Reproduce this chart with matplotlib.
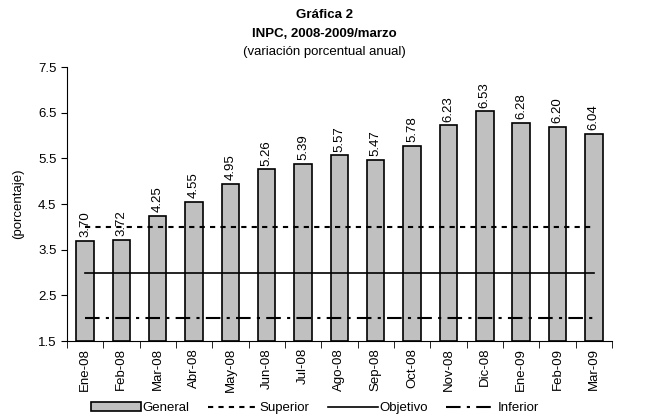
import numpy as np
import matplotlib.pyplot as plt

plt.rcParams['font.family'] = ['Liberation Sans', 'DejaVu Sans']

meses = ['Ene-08', 'Feb-08', 'Mar-08', 'Abr-08', 'May-08', 'Jun-08', 'Jul-08',
         'Ago-08', 'Sep-08', 'Oct-08', 'Nov-08', 'Dic-08', 'Ene-09', 'Feb-09', 'Mar-09']
general = [3.70, 3.72, 4.25, 4.55, 4.95, 5.26, 5.39, 5.57, 5.47, 5.78, 6.23, 6.53, 6.28, 6.20, 6.04]
superior = [4.0] * len(meses)
objetivo = [3.0] * len(meses)
inferior = [2.0] * len(meses)

x = np.arange(len(meses))

fig = plt.figure(figsize=(6.49, 4.2), dpi=100)
ax = fig.add_axes([0.103, 0.188, 0.84, 0.652])

b = ax.bar(x, np.array(general) - 1.5, bottom=1.5, width=0.48, color='#c0c0c0',
           edgecolor='black', linewidth=1.2, label='General')
l1, = ax.plot(x, superior, color='black', lw=1.5, ls=(0, (2.5, 2.5)), label='Superior')
l2, = ax.plot(x, objetivo, color='black', lw=1.2, ls='-', label='Objetivo')
l3, = ax.plot(x, inferior, color='black', lw=1.5, ls=(0, (7, 3, 1.5, 3)), label='Inferior')

for xi, v in zip(x, general):
    ax.text(xi, v + 0.08, f'{v:.2f}', rotation=90, ha='center', va='bottom', fontsize=9.5)

ax.set_xlim(-0.5, len(meses) - 0.5)
ax.set_ylim(1.5, 7.5)
ax.set_yticks([1.5, 2.5, 3.5, 4.5, 5.5, 6.5, 7.5])
ax.set_yticklabels(['1.5', '2.5', '3.5', '4.5', '5.5', '6.5', '7.5'], fontsize=9.5)
ax.set_xticks(x)
ax.set_xticklabels(meses, rotation=90, fontsize=9.5)
ax.tick_params(axis='x', length=0, pad=5)
ax.set_xticks(np.arange(-0.5, len(meses)), minor=True)
ax.tick_params(axis='x', which='minor', length=5, direction='out')
ax.tick_params(axis='y', length=4, direction='out')
for s in ['top', 'right']:
    ax.spines[s].set_visible(False)
ax.set_ylabel('(porcentaje)', fontsize=9.5, labelpad=10)

fig.text(0.5, 0.965, 'Gráfica 2', ha='center', va='center', fontsize=9.5, fontweight='bold')
fig.text(0.5, 0.92, 'INPC, 2008-2009/marzo', ha='center', va='center', fontsize=9.5, fontweight='bold')
fig.text(0.5, 0.877, '(variación porcentual anual)', ha='center', va='center', fontsize=9.5)

fig.legend([b, l1, l2, l3], ['General', 'Superior', 'Objetivo', 'Inferior'],
           loc='center', bbox_to_anchor=(0.485, 0.028), ncol=4, frameon=False, fontsize=9.5,
           handlelength=3.8, handleheight=0.6, handletextpad=0.1, columnspacing=1.4,
           borderaxespad=0)

fig.savefig('out.png', dpi=100)
